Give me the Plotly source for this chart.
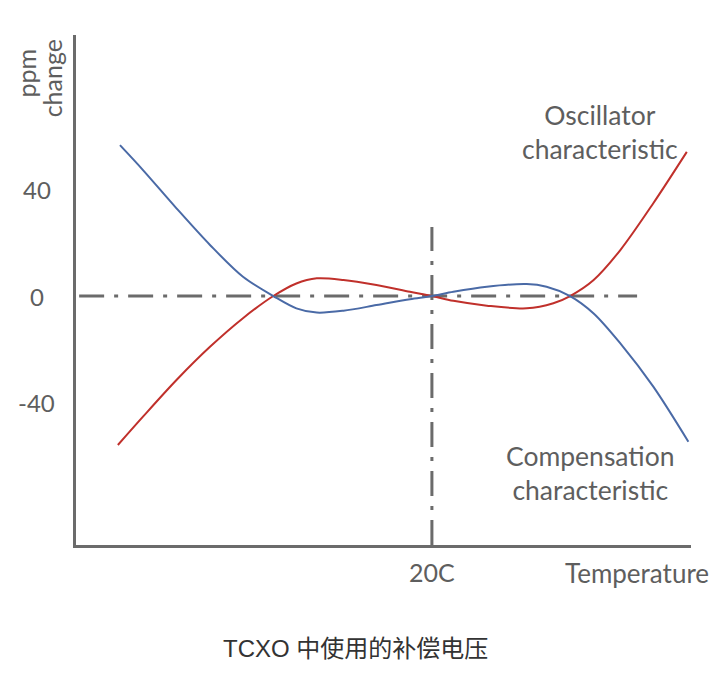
import plotly.graph_objects as go

# ---- data (temperature in arbitrary °C units, ppm change) ----
osc_temp = [-40, -35.2, -28.8, -22.4, -16.1, -10.3, -5.9, -2.0, 3.1, 9.4, 15.8, 20,
            24.1, 30.5, 38.1, 43.2, 46.4, 50.9, 56.0, 62.3, 68.7]
osc_ppm = [-55.7, -45.1, -31.4, -19.0, -8.3, 0, 4.7, 6.6, 6.0, 4.1, 1.6, 0,
           -1.8, -3.6, -4.6, -2.7, 0, 6.0, 17.2, 34.7, 53.9]

comp_temp = [-39.6, -35.2, -28.8, -22.4, -16.1, -10.3, -5.9, -2.0, 3.1, 9.4, 15.8, 20,
             24.1, 30.5, 38.1, 41.9, 46.4, 50.9, 56.0, 62.3, 69.0]
comp_ppm = [56.4, 47.1, 32.8, 19.1, 7.2, 0, -4.6, -6.2, -5.5, -3.4, -1.2, 0,
            1.6, 3.5, 4.5, 3.5, 0, -6.5, -17.7, -33.9, -54.5]

y_tick_vals = [40, 0, -40]
y_tick_text = ["40", "0", "-40"]
ref_temp = 20
ref_temp_label = "20C"
zero_ppm = 0
hline_span = [-47.4, 59.2]
vline_top = 25.8

x_range = [-48.0, 69.5]
y_range = [-93.1, 97.6]

TXT = "#5e5e5e"
AX = "#6b6b6b"
FONT = "Lato, 'Open Sans', sans-serif"

fig = go.Figure()
fig.add_trace(go.Scatter(x=osc_temp, y=osc_ppm, mode="lines",
                         line=dict(color="#c0302b", width=2, shape="spline", smoothing=0.9),
                         hoverinfo="skip", showlegend=False))
fig.add_trace(go.Scatter(x=comp_temp, y=comp_ppm, mode="lines",
                         line=dict(color="#4a6aa6", width=2, shape="spline", smoothing=0.9),
                         hoverinfo="skip", showlegend=False))

dash = "25px,10px,4px,10px"
fig.add_shape(type="line", xref="x", yref="y", x0=hline_span[0], x1=hline_span[1],
              y0=zero_ppm, y1=zero_ppm, line=dict(color=AX, width=3, dash=dash), layer="below")
fig.add_shape(type="line", xref="x", yref="y", x0=ref_temp, x1=ref_temp,
              y0=y_range[0], y1=vline_top, line=dict(color=AX, width=3, dash=dash), layer="below")

ann = []
for v, t in zip(y_tick_vals, y_tick_text):
    ann.append(dict(x=-0.064, xref="paper", y=v, yref="y", text=t, showarrow=False,
                    xanchor="center", yanchor="middle", font=dict(size=24, color=TXT, family=FONT)))
ann.append(dict(x=ref_temp, xref="x", y=0, yref="paper", text=ref_temp_label, showarrow=False,
                xanchor="center", yanchor="middle", yshift=-27,
                font=dict(size=25, color=TXT, family=FONT)))
ann.append(dict(x=0.912, xref="paper", y=0, yref="paper", text="Temperature", showarrow=False,
                xanchor="center", yanchor="middle", yshift=-28,
                font=dict(size=26, color=TXT, family=FONT)))
ann.append(dict(x=-0.081, xref="paper", y=0.925, yref="paper", text="ppm", showarrow=False,
                textangle=-90, xanchor="center", yanchor="middle",
                font=dict(size=25, color=TXT, family=FONT)))
ann.append(dict(x=-0.039, xref="paper", y=0.915, yref="paper", text="change", showarrow=False,
                textangle=-90, xanchor="center", yanchor="middle",
                font=dict(size=25, color=TXT, family=FONT)))
ann.append(dict(x=0.852, xref="paper", y=0.809, yref="paper",
                text="Oscillator<br>characteristic", showarrow=False,
                xanchor="center", yanchor="middle",
                font=dict(size=26.5, color=TXT, family=FONT)))
ann.append(dict(x=0.836, xref="paper", y=0.142, yref="paper",
                text="Compensation<br>characteristic", showarrow=False,
                xanchor="center", yanchor="middle",
                font=dict(size=26.5, color=TXT, family=FONT)))
ann.append(dict(x=0.4537, xref="paper", y=-0.202, yref="paper",
                text="TCXO 中使用的补偿电压", showarrow=False,
                xanchor="center", yanchor="middle",
                font=dict(size=24, color="#333333",
                          family="'Liberation Sans', 'Noto Sans CJK SC', sans-serif")))

fig.update_layout(
    width=718, height=678,
    margin=dict(l=76, r=27, t=35, b=133),
    paper_bgcolor="white", plot_bgcolor="white",
    xaxis=dict(range=x_range, showgrid=False, zeroline=False, showticklabels=False,
               ticks="", showline=True, linecolor=AX, linewidth=2.5, fixedrange=True),
    yaxis=dict(range=y_range, showgrid=False, zeroline=False, showticklabels=False,
               ticks="", showline=True, linecolor=AX, linewidth=3, fixedrange=True),
    annotations=ann,
)

fig.write_html("out.html", config={"displayModeBar": False},
               post_script="document.body.style.margin='0';document.body.style.overflow='hidden';")
